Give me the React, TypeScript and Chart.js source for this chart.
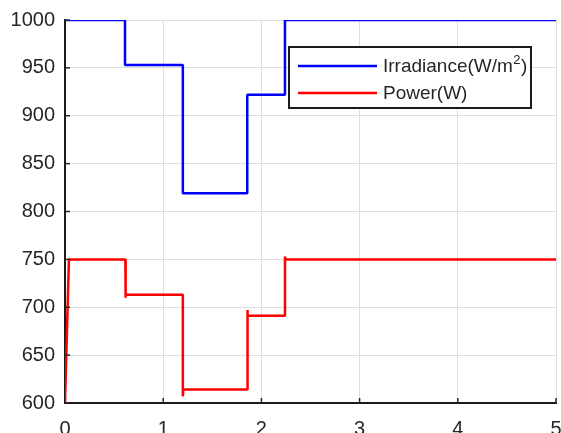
import React, { useEffect, useRef } from "react";
import { Chart, registerables } from "chart.js";

Chart.register(...registerables);

// Irradiance (W/m^2) step profile
const irrTime = [0, 0.611, 1.2, 1.856, 2.24, 5];
const irrValue = [1000, 953, 819, 922, 1000, 1000];

// Power (W) response (with small overshoots at transitions)
const powTime = [0, 0.04, 0.615, 0.615, 0.62, 1.2, 1.2, 1.205, 1.856, 1.856, 1.862, 2.24, 2.24, 2.246, 5];
const powValue = [600, 750, 750, 710, 713, 713, 607, 614, 614, 697, 691, 691, 753, 750, 750];

const seriesLabels = ["Irradiance(W/m²)", "Power(W)"];
const seriesColors = ["#0000ff", "#ff0000"];

const yMin = 600;
const yMax = 1000;
const yStep = 50;
const xMin = 0;
const xMax = 5;
const xStep = 1;

const FONT = "'Liberation Sans', Arial, Helvetica, sans-serif";
const TEXT = "#262626";

const innerTicks = {
  id: "innerTicks",
  afterDatasetsDraw(chart: any) {
    const { ctx, chartArea, scales } = chart;
    ctx.save();
    ctx.strokeStyle = TEXT;
    ctx.lineWidth = 1.5;
    scales.y.ticks.forEach((t: any) => {
      const y = scales.y.getPixelForValue(t.value);
      ctx.beginPath();
      ctx.moveTo(chartArea.left, y);
      ctx.lineTo(chartArea.left + 5, y);
      ctx.stroke();
    });
    scales.x.ticks.forEach((t: any) => {
      const x = scales.x.getPixelForValue(t.value);
      ctx.beginPath();
      ctx.moveTo(x, chartArea.bottom);
      ctx.lineTo(x, chartArea.bottom - 5);
      ctx.stroke();
    });
    ctx.restore();
  },
};

const boxLegend = {
  id: "boxLegend",
  afterDraw(chart: any) {
    const { ctx } = chart;
    const bx = 289, by = 47, bw = 242, bh = 61;
    ctx.save();
    ctx.fillStyle = "#ffffff";
    ctx.fillRect(bx, by, bw, bh);
    ctx.strokeStyle = "#1a1a1a";
    ctx.lineWidth = 2;
    ctx.strokeRect(bx, by, bw, bh);
    const rows = [66, 93];
    chart.data.datasets.forEach((ds: any, i: number) => {
      const y = rows[i];
      ctx.strokeStyle = ds.borderColor;
      ctx.lineWidth = 2.5;
      ctx.beginPath();
      ctx.moveTo(298, y);
      ctx.lineTo(377, y);
      ctx.stroke();
      ctx.fillStyle = TEXT;
      ctx.textBaseline = "middle";
      ctx.textAlign = "left";
      ctx.font = `19px ${FONT}`;
      const label: string = ds.label;
      const supIdx = label.indexOf("²");
      if (supIdx >= 0) {
        const pre = label.slice(0, supIdx);
        const post = label.slice(supIdx + 1);
        let x = 383;
        ctx.fillText(pre, x, y + 1);
        x += ctx.measureText(pre).width;
        ctx.font = `13px ${FONT}`;
        ctx.fillText("2", x + 0.5, y - 6);
        x += ctx.measureText("2").width + 1;
        ctx.font = `19px ${FONT}`;
        ctx.fillText(post, x, y + 1);
      } else {
        ctx.fillText(label, 383, y + 1);
      }
    });
    ctx.restore();
  },
};

export default function App() {
  const ref = useRef<HTMLCanvasElement | null>(null);
  useEffect(() => {
    document.body.style.margin = "0";
    const canvas = ref.current!;
    const chart = new Chart(canvas, {
      type: "line",
      data: {
        datasets: [
          {
            label: seriesLabels[0],
            data: irrTime.map((t, i) => ({ x: t, y: irrValue[i] })),
            borderColor: seriesColors[0],
            backgroundColor: seriesColors[0],
            borderWidth: 2.5,
            borderJoinStyle: "bevel",
            pointRadius: 0,
            stepped: "before",
            fill: false,
          },
          {
            label: seriesLabels[1],
            data: powTime.map((t, i) => ({ x: t, y: powValue[i] })),
            borderColor: seriesColors[1],
            backgroundColor: seriesColors[1],
            borderWidth: 2.5,
            borderJoinStyle: "bevel",
            pointRadius: 0,
            tension: 0,
            fill: false,
          },
        ],
      },
      options: {
        animation: false,
        responsive: false,
        devicePixelRatio: 1,
        layout: { padding: { top: 20, right: 5, left: 0, bottom: 0 } },
        plugins: { legend: { display: false }, tooltip: { enabled: false } },
        scales: {
          x: {
            type: "linear",
            min: xMin,
            max: xMax,
            ticks: {
              stepSize: xStep,
              color: TEXT,
              font: { family: FONT, size: 20 },
              padding: 14,
              maxRotation: 0,
              callback: (v: any) => String(v),
            },
            grid: { color: "#dedede", lineWidth: 1, drawTicks: false },
            border: { display: true, color: "#1a1a1a", width: 2 },
            afterFit(scale: any) {
              scale.height = 47;
              scale.paddingLeft = 0;
              scale.paddingRight = 0;
            },
          },
          y: {
            min: yMin,
            max: yMax,
            ticks: {
              stepSize: yStep,
              color: TEXT,
              font: { family: FONT, size: 20 },
              padding: 10,
              callback: (v: any) => String(v),
            },
            grid: { color: "#dedede", lineWidth: 1, drawTicks: false },
            border: { display: true, color: "#1a1a1a", width: 2 },
            afterFit(scale: any) {
              scale.width = 65;
              scale.paddingTop = 0;
              scale.paddingBottom = 0;
            },
          },
        },
      },
      plugins: [innerTicks, boxLegend],
    });
    return () => chart.destroy();
  }, []);
  return (
    <div style={{ position: "absolute", left: 0, top: 0, width: 561, height: 433, overflow: "hidden", background: "#fff" }}>
      <canvas ref={ref} width={561} height={450} style={{ display: "block", width: 561, height: 450 }} />
    </div>
  );
}
